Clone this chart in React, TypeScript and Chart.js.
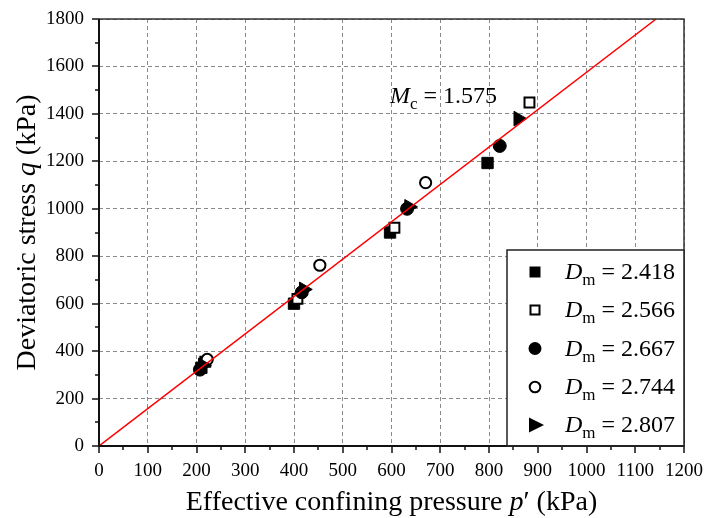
import React, { useEffect, useRef } from "react";
import { Chart, registerables } from "chart.js";
Chart.register(...registerables);

const DM_LABELS = ["2.418", "2.566", "2.667", "2.744", "2.807"];
const P_2418 = [210, 400, 597, 797];
const Q_2418 = [330, 600, 900, 1193];
const P_2566 = [218, 407, 606, 883];
const Q_2566 = [355, 620, 920, 1448];
const P_2667 = [207, 416, 632, 822];
const Q_2667 = [322, 648, 1000, 1265];
const P_2744 = [222, 453, 670];
const Q_2744 = [365, 762, 1110];
const P_2807 = [213, 420, 636, 860];
const Q_2807 = [340, 660, 1008, 1380];
const MC = 1.575;
const X_MIN = 0, X_MAX = 1200, X_STEP = 100;
const Y_MIN = 0, Y_MAX = 1800, Y_STEP = 200;

const SERIF = "'Liberation Serif', 'Times New Roman', serif";

const toPts = (p: number[], q: number[]) => p.map((v, i) => ({ x: v, y: q[i] }));

type Seg = { t: string; it?: boolean; sub?: boolean };

function drawRich(ctx: CanvasRenderingContext2D, segs: Seg[], x: number, y: number, size: number, subSize: number, subDy: number, align: "left" | "center" = "left") {
  const fontOf = (s: Seg) => `${s.it ? "italic " : ""}${s.sub ? subSize : size}px ${SERIF}`;
  let total = 0;
  for (const s of segs) { ctx.font = fontOf(s); total += ctx.measureText(s.t).width; }
  let cx = align === "center" ? x - total / 2 : x;
  ctx.textAlign = "left";
  ctx.textBaseline = "alphabetic";
  for (const s of segs) {
    ctx.font = fontOf(s);
    ctx.fillText(s.t, cx, s.sub ? y + subDy : y);
    cx += ctx.measureText(s.t).width;
  }
}

function drawMarker(ctx: CanvasRenderingContext2D, kind: number, x: number, y: number) {
  ctx.save();
  ctx.fillStyle = "#000";
  ctx.strokeStyle = "#000";
  ctx.lineWidth = 2;
  ctx.beginPath();
  if (kind === 0) {
    ctx.rect(x - 5.5, y - 5.5, 11, 11); ctx.fill();
  } else if (kind === 1) {
    ctx.fillStyle = "#fff";
    ctx.rect(x - 4.5, y - 4.5, 9, 9); ctx.fill(); ctx.stroke();
  } else if (kind === 2) {
    ctx.arc(x, y, 6.5, 0, Math.PI * 2); ctx.fill();
  } else if (kind === 3) {
    ctx.fillStyle = "#fff";
    ctx.arc(x, y, 5.3, 0, Math.PI * 2); ctx.fill(); ctx.stroke();
  } else {
    ctx.moveTo(x - 6, y - 7.5); ctx.lineTo(x + 9, y); ctx.lineTo(x - 6, y + 7.5); ctx.closePath(); ctx.fill();
  }
  ctx.restore();
}

const decor = {
  id: "decor",
  afterDraw(chart: any) {
    const { ctx, chartArea: a, scales } = chart;
    const xs = scales.x, ys = scales.y;
    ctx.save();
    // frame
    ctx.strokeStyle = "#333";
    ctx.lineWidth = 1.5;
    ctx.beginPath();
    ctx.moveTo(a.left, a.top); ctx.lineTo(a.right, a.top); ctx.lineTo(a.right, a.bottom);
    ctx.stroke();
    ctx.strokeStyle = "#111";
    ctx.lineWidth = 2;
    ctx.beginPath();
    ctx.moveTo(a.left, a.top); ctx.lineTo(a.left, a.bottom); ctx.lineTo(a.right, a.bottom);
    ctx.stroke();
    // ticks (major and minor, outward)
    ctx.lineWidth = 1.5;
    for (let v = X_MIN; v <= X_MAX; v += X_STEP / 2) {
      const px = Math.round(xs.getPixelForValue(v));
      const len = v % X_STEP === 0 ? 7 : 4;
      ctx.beginPath(); ctx.moveTo(px, a.bottom); ctx.lineTo(px, a.bottom + len); ctx.stroke();
    }
    for (let v = Y_MIN; v <= Y_MAX; v += Y_STEP / 2) {
      const py = Math.round(ys.getPixelForValue(v));
      const len = v % Y_STEP === 0 ? 7 : 4;
      ctx.beginPath(); ctx.moveTo(a.left, py); ctx.lineTo(a.left - len, py); ctx.stroke();
    }
    // legend box
    const lx = 507, ly = 250, lr = a.right, lb = a.bottom;
    ctx.fillStyle = "#fff";
    ctx.fillRect(lx, ly, lr - lx, lb - ly);
    ctx.strokeStyle = "#222";
    ctx.lineWidth = 1.5;
    ctx.strokeRect(lx, ly, lr - lx, lb - ly);
    ctx.lineWidth = 2;
    ctx.beginPath(); ctx.moveTo(lx, lb); ctx.lineTo(lr, lb); ctx.stroke();
    const rows = [272, 310, 348.5, 387, 425];
    DM_LABELS.forEach((lab, i) => {
      drawMarker(ctx, i, 535, rows[i]);
      ctx.fillStyle = "#000";
      drawRich(ctx, [{ t: "D", it: true }, { t: "m", sub: true }, { t: " = " + lab }], 565, rows[i] + 7, 24, 17, 6);
    });
    // Mc annotation
    ctx.fillStyle = "#000";
    drawRich(ctx, [{ t: "M", it: true }, { t: "c", sub: true }, { t: " = " + MC.toFixed(3) }], 390, 103, 24, 17, 6);
    // axis titles
    drawRich(ctx, [{ t: "Effective confining pressure " }, { t: "p", it: true }, { t: "\u2032 (kPa)" }], (a.left + a.right) / 2, 510, 28, 20, 6, "center");
    ctx.save();
    ctx.translate(35, (a.top + a.bottom) / 2);
    ctx.rotate(-Math.PI / 2);
    drawRich(ctx, [{ t: "Deviatoric stress " }, { t: "q", it: true }, { t: " (kPa)" }], 0, 0, 28, 20, 6, "center");
    ctx.restore();
    ctx.restore();
  },
};

export default function App() {
  const ref = useRef<HTMLCanvasElement>(null);
  useEffect(() => {
    if (!ref.current) return;
    const markerSets = [
      { p: P_2418, q: Q_2418, style: "rect", radius: 8, fill: "#000", bw: 1 },
      { p: P_2566, q: Q_2566, style: "rect", radius: 7, fill: "#fff", bw: 2 },
      { p: P_2667, q: Q_2667, style: "circle", radius: 6.5, fill: "#000", bw: 1 },
      { p: P_2744, q: Q_2744, style: "circle", radius: 5.6, fill: "#fff", bw: 2 },
      { p: P_2807, q: Q_2807, style: "triangle", radius: 8.5, fill: "#000", bw: 1 },
    ];
    const datasets: any[] = markerSets.map((m, i) => ({
      type: "scatter",
      label: "Dm = " + DM_LABELS[i],
      data: toPts(m.p, m.q),
      pointStyle: m.style,
      pointRadius: m.radius,
      pointHoverRadius: m.radius,
      pointRotation: m.style === "triangle" ? 90 : 0,
      backgroundColor: m.fill,
      borderColor: "#000",
      borderWidth: m.bw,
      order: 10 - i,
    }));
    datasets.push({
      type: "line",
      label: "Mc",
      data: [{ x: 0, y: 0 }, { x: Y_MAX / MC, y: Y_MAX }],
      borderColor: "#ff0000",
      borderWidth: 1.5,
      pointRadius: 0,
      order: 0,
    });
    const chart = new Chart(ref.current, {
      type: "scatter",
      data: { datasets },
      plugins: [decor],
      options: {
        animation: false,
        responsive: false,
        devicePixelRatio: 1,
        layout: { autoPadding: false, padding: { top: 19, right: 20, left: 0, bottom: 0 } },
        plugins: { legend: { display: false }, tooltip: { enabled: false } },
        scales: {
          x: {
            type: "linear",
            min: X_MIN,
            max: X_MAX,
            afterFit: (s: any) => { s.height = 72; s.paddingLeft = 0; s.paddingRight = 0; s.paddingTop = 0; s.paddingBottom = 0; },
            ticks: { stepSize: X_STEP, padding: 14, color: "#000", font: { family: SERIF, size: 19 }, callback: (v: any) => String(v) },
            grid: { drawTicks: false, color: "#8a8a8a", lineWidth: 1 },
            border: { display: false, dash: [4, 3] },
          },
          y: {
            type: "linear",
            min: Y_MIN,
            max: Y_MAX,
            afterFit: (s: any) => { s.width = 99; s.paddingLeft = 0; s.paddingRight = 0; s.paddingTop = 0; s.paddingBottom = 0; },
            ticks: { stepSize: Y_STEP, padding: 15, color: "#000", font: { family: SERIF, size: 19 }, callback: (v: any) => String(v) },
            grid: { drawTicks: false, color: "#8a8a8a", lineWidth: 1 },
            border: { display: false, dash: [4, 3] },
          },
        },
      },
    });
    return () => chart.destroy();
  }, []);
  return (
    <div style={{ position: "fixed", left: 0, top: 0, width: 704, height: 518, background: "#fff" }}>
      <canvas ref={ref} width={704} height={518} style={{ width: 704, height: 518, display: "block" }} />
    </div>
  );
}
